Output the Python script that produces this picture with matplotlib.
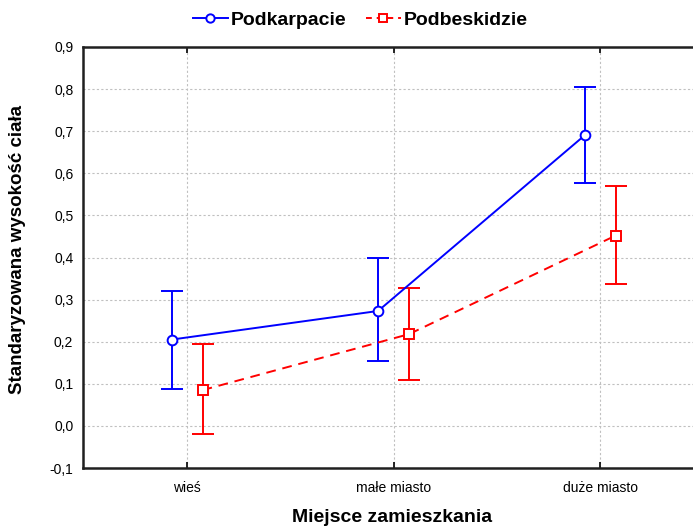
import numpy as np
import matplotlib.pyplot as plt
from matplotlib.lines import Line2D

plt.rcParams['font.family'] = ['Liberation Sans', 'DejaVu Sans']

categories = ['wieś', 'małe miasto', 'duże miasto']
podkarpacie_mean = [0.205, 0.273, 0.690]
podkarpacie_low = [0.088, 0.153, 0.577]
podkarpacie_high = [0.320, 0.400, 0.806]
podbeskidzie_mean = [0.085, 0.218, 0.452]
podbeskidzie_low = [-0.020, 0.110, 0.337]
podbeskidzie_high = [0.195, 0.328, 0.571]
y_ticks = [-0.1, 0.0, 0.1, 0.2, 0.3, 0.4, 0.5, 0.6, 0.7, 0.8, 0.9]


def main():
    fig = plt.figure(figsize=(6.93, 5.27), dpi=100)
    ax = fig.add_axes([83 / 693, 1 - 468 / 527, 1 - 83 / 693, (468 - 47) / 527])

    x = np.arange(len(categories))
    off = 0.075
    red_dash = (0, (5, 3.5))

    m1 = np.array(podkarpacie_mean)
    err1 = [m1 - np.array(podkarpacie_low), np.array(podkarpacie_high) - m1]
    m2 = np.array(podbeskidzie_mean)
    err2 = [m2 - np.array(podbeskidzie_low), np.array(podbeskidzie_high) - m2]

    ax.errorbar(x - off, m1, yerr=err1, color='#0000ff', lw=1.4, marker='o',
                ms=7, mfc='white', mec='#0000ff', mew=1.4, capsize=8,
                elinewidth=1.4, capthick=1.4, zorder=3)
    ax.errorbar(x + off, m2, yerr=err2, color='#ff0000', lw=1.4, ls=red_dash,
                marker='s', ms=7, mfc='white', mec='#ff0000', mew=1.4, capsize=8,
                elinewidth=1.4, capthick=1.4, zorder=3)

    ax.set_xlim(-0.504, 2.45)
    ax.set_ylim(-0.1, 0.9)
    ax.set_xticks(x)
    ax.set_xticklabels(categories, fontsize=10)
    ax.set_yticks(y_ticks)
    ax.set_yticklabels([f'{v:.1f}'.replace('.', ',') for v in y_ticks], fontsize=10)
    ax.tick_params(axis='x', direction='in', top=True, length=4, width=1.2, pad=9)
    ax.tick_params(axis='y', direction='in', length=0, pad=7)

    ax.grid(True, color='#c0c0c0', ls=(0, (2, 2)), lw=0.8)
    ax.set_axisbelow(True)
    for side in ['left', 'bottom', 'top']:
        ax.spines[side].set_linewidth(1.8)
        ax.spines[side].set_color('#202020')
    ax.spines['right'].set_visible(False)

    fig.text(18 / 693, 1 - 250 / 527, 'Standaryzowana wysokość ciała', fontsize=13.5,
             fontweight='bold', rotation=90, ha='center', va='center')
    fig.text(392 / 693, 1 - 518 / 527, 'Miejsce zamieszkania', fontsize=14,
             fontweight='bold', ha='center', va='center')

    handles = [
        Line2D([], [], color='#0000ff', lw=1.4, marker='o', ms=6, mfc='white',
               mec='#0000ff', mew=1.4),
        Line2D([], [], color='#ff0000', lw=1.4, ls=(0, (3, 2.5)), marker='s', ms=6,
               mfc='white', mec='#ff0000', mew=1.4),
    ]
    fig.legend(handles, ['Podkarpacie', 'Podbeskidzie'], loc='center',
               bbox_to_anchor=(360 / 693, 1 - 20 / 527), ncol=2,
               frameon=False, prop={'weight': 'bold', 'size': 14},
               handlelength=1.8, handletextpad=0.15, columnspacing=1.0)

    fig.savefig('out.png', dpi=100)


if __name__ == '__main__':
    main()
